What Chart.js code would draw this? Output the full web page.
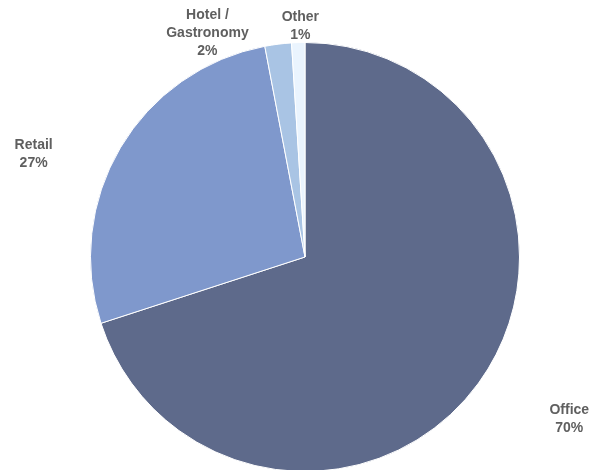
<!DOCTYPE html>
<html>
<head>
<meta charset="utf-8">
<script src="https://cdn.jsdelivr.net/npm/chart.js@4"></script>
<style>
  html, body { margin: 0; padding: 0; background: #fff; overflow: hidden; }
  #wrap { width: 600px; height: 480px; }
</style>
</head>
<body>
<div id="wrap"><canvas id="chartUsage"></canvas></div>
<script>
var categories = [["Office"], ["Retail"], ["Hotel /", "Gastronomy"], ["Other"]];
var shares = [70, 27, 2, 1];
var sliceColors = ["#5e6a8b", "#7f98cc", "#a9c4e4", "#eaf4fe"];

// small shifts so the outside labels sit clear of each other
var labelNudge = [[65, 18], [-60, 22], [-64, 28], [3, 14]];

var outsideLabels = {
    id: "outsideLabels",
    afterDatasetsDraw: function (chart) {
        var ctx = chart.ctx;
        var meta = chart.getDatasetMeta(0);
        var lineH = 18;
        ctx.save();
        ctx.font = "bold 14px 'Liberation Sans', Arial, sans-serif";
        ctx.fillStyle = "#5f5f5f";
        ctx.textAlign = "center";
        ctx.textBaseline = "middle";
        meta.data.forEach(function (arc, i) {
            var p = arc.getProps(["x", "y", "startAngle", "endAngle", "outerRadius"], true);
            var mid = (p.startAngle + p.endAngle) / 2;
            var dx = Math.cos(mid), dy = Math.sin(mid);
            var lines = categories[i].concat([shares[i] + "%"]);
            var w = Math.max.apply(null, lines.map(function (t) { return ctx.measureText(t).width; }));
            var h = lines.length * lineH;
            var cx = p.x + dx * (p.outerRadius + 12) + dx * w / 2 + labelNudge[i][0];
            var cy = p.y + dy * (p.outerRadius + 12) + dy * h / 2 + labelNudge[i][1];
            lines.forEach(function (t, k) {
                ctx.fillText(t, cx, cy - h / 2 + lineH / 2 + k * lineH);
            });
        });
        ctx.restore();
    }
};

var usage = document.getElementById("chartUsage").getContext("2d");
var chart = new Chart(usage, {
    type: "pie",
    data: {
        labels: categories,
        datasets: [
            {
                data: shares,
                backgroundColor: sliceColors,
                borderColor: "#fff",
                borderWidth: 1
            }
        ]
    },
    options: {
        responsive: true,
        maintainAspectRatio: false,
        animation: false,
        layout: { padding: { top: 42, bottom: 8, left: 90, right: 80 } },
        plugins: {
            legend: { display: false },
            tooltip: { enabled: false }
        }
    },
    plugins: [outsideLabels]
});
</script>
</body>
</html>
